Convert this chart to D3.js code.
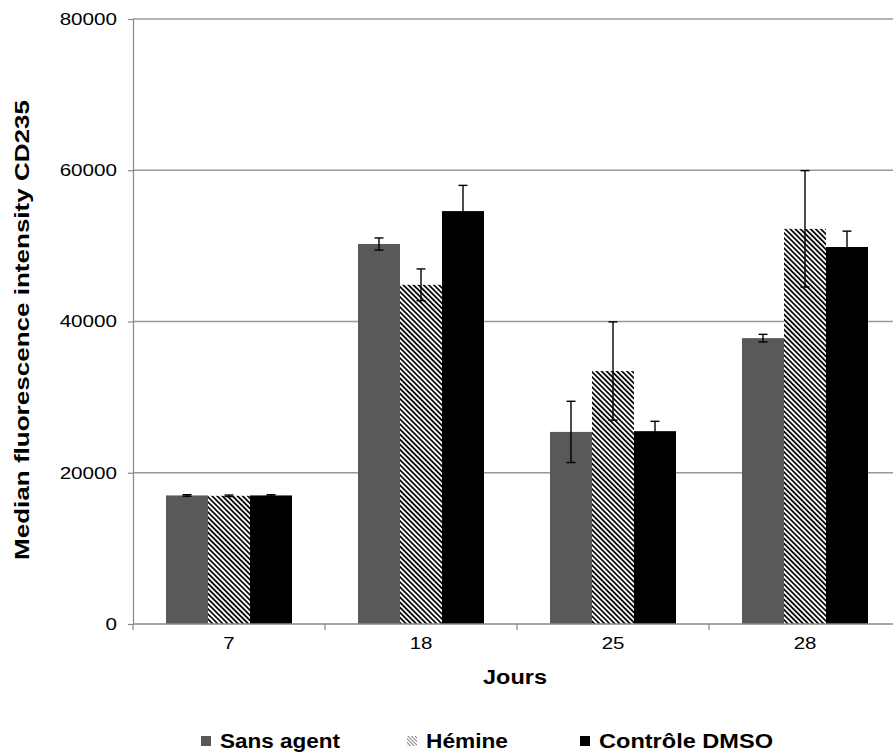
<!DOCTYPE html>
<html><head><meta charset="utf-8">
<script src="https://cdn.jsdelivr.net/npm/d3@7"></script>
<style>body{margin:0;background:#fff}svg{display:block}text{font-family:"Liberation Sans",Arial,sans-serif}</style>
</head><body><svg id="c" width="893" height="754"></svg>
<script>
const categories = ["7", "18", "25", "28"];
const seriesNames = ["Sans agent", "Hémine", "Contrôle DMSO"];
const sansAgent = [17000, 50250, 25400, 37800];
const hemine = [16950, 44850, 33450, 52250];
const controleDMSO = [17000, 54600, 25500, 49850];
const errSansAgent = [100, 800, 4050, 500];
const errHemine = [100, 2100, 6500, 7700];
const errControle = [100, 3400, 1300, 2100];
const yTicks = [0, 20000, 40000, 60000, 80000];

const svg = d3.select("#c");
const defs = svg.append("defs");
const pat = defs.append("pattern").attr("id","hatch").attr("patternUnits","userSpaceOnUse")
  .attr("width",3.6).attr("height",3.6).attr("patternTransform","rotate(-45)");
pat.append("rect").attr("width",3.6).attr("height",3.6).attr("fill","#fff");
pat.append("rect").attr("x",0).attr("y",0).attr("width",1.7).attr("height",3.6).attr("fill","#000");
const pat2 = defs.append("pattern").attr("id","hatchL").attr("patternUnits","userSpaceOnUse")
  .attr("width",2.5).attr("height",2.5).attr("patternTransform","rotate(-45)");
pat2.append("rect").attr("width",2.5).attr("height",2.5).attr("fill","#fff");
pat2.append("rect").attr("width",0.9).attr("height",2.5).attr("fill","#777");

const x0 = d3.scaleBand().domain(categories).range([133, 901]);
const x1 = d3.scaleBand().domain(seriesNames).range([33, 159]);
const y = d3.scaleLinear().domain([0, 80000]).range([624, 19]);
const fills = ["#595959", "url(#hatch)", "#000"];
const vals = [sansAgent, hemine, controleDMSO];
const errs = [errSansAgent, errHemine, errControle];

// gridlines
svg.append("g").selectAll("line").data(yTicks.filter(d=>d>0)).join("line")
  .attr("x1",133).attr("x2",893).attr("y1",d=>y(d)).attr("y2",d=>y(d))
  .attr("stroke","#999").attr("stroke-width",1.5);

// bars
seriesNames.forEach((s,si)=>{
  const g = svg.append("g");
  g.selectAll("rect").data(categories).join("rect")
    .attr("x",c=>x0(c)+x1(s)).attr("width",x1.bandwidth())
    .attr("y",(c,i)=>y(vals[si][i])).attr("height",(c,i)=>y(0)-y(vals[si][i]))
    .attr("fill",fills[si]);
});
// error bars
seriesNames.forEach((s,si)=>{
  const g = svg.append("g").attr("stroke","#000").attr("stroke-width",1.4);
  categories.forEach((c,i)=>{
    const cx = x0(c)+x1(s)+x1.bandwidth()/2;
    const v = vals[si][i], e = errs[si][i];
    g.append("line").attr("x1",cx).attr("x2",cx).attr("y1",y(v+e)).attr("y2",y(v-e));
    g.append("line").attr("x1",cx-4.5).attr("x2",cx+4.5).attr("y1",y(v+e)).attr("y2",y(v+e));
    g.append("line").attr("x1",cx-4.5).attr("x2",cx+4.5).attr("y1",y(v-e)).attr("y2",y(v-e));
  });
});

function stretch(sel, f){ sel.each(function(){ const w=this.getComputedTextLength(); d3.select(this).attr("textLength",w*f).attr("lengthAdjust","spacingAndGlyphs"); }); }

// y axis
const ya = svg.append("g").attr("transform","translate(133,0)")
  .call(d3.axisLeft(y).tickValues(yTicks).tickSize(5).tickPadding(11).tickFormat(d3.format("d")));
ya.select(".domain").attr("stroke","#888").attr("stroke-width",1.2);
ya.selectAll(".tick line").attr("stroke","#888").attr("stroke-width",1.2);
ya.selectAll("text").attr("font-size","16.5px").attr("fill","#000").attr("font-family","Liberation Sans, Arial");
stretch(ya.selectAll("text"),1.25);

// x axis
const xa = svg.append("g").attr("transform","translate(0,624)")
  .call(d3.axisBottom(x0).tickSize(0).tickPadding(13));
xa.select(".domain").remove();
svg.append("line").attr("x1",133).attr("x2",893).attr("y1",624).attr("y2",624).attr("stroke","#888").attr("stroke-width",1.5);
svg.append("g").selectAll("line").data(categories).join("line")
  .attr("x1",c=>x0(c)).attr("x2",c=>x0(c)).attr("y1",624).attr("y2",630).attr("stroke","#888").attr("stroke-width",1.2);
xa.selectAll("text").attr("font-size","16.5px").attr("fill","#000").attr("font-family","Liberation Sans, Arial");
stretch(xa.selectAll("text"),1.24);

// axis titles
const jt = svg.append("text").attr("x",515).attr("y",684).attr("text-anchor","middle")
  .attr("font-size","20px").attr("font-weight","bold").text("Jours");
jt.attr("textLength",64).attr("lengthAdjust","spacingAndGlyphs");
svg.append("text").attr("transform","translate(29,330) rotate(-90)").attr("text-anchor","middle")
  .attr("font-size","20px").attr("font-weight","bold")
  .attr("textLength",460).attr("lengthAdjust","spacingAndGlyphs")
  .text("Median fluorescence intensity CD235");

// legend
const legX = [201, 407, 580];
const legW = [120, 82, 174];
const legFill = ["#595959", "url(#hatchL)", "#000"];
seriesNames.forEach((s,i)=>{
  svg.append("rect").attr("x",legX[i]).attr("y",736).attr("width",10).attr("height",10).attr("fill",legFill[i]);
  svg.append("text").attr("x",legX[i]+19).attr("y",748).attr("font-size","20px").attr("font-weight","bold")
    .attr("textLength",legW[i]).attr("lengthAdjust","spacingAndGlyphs").text(s);
});
</script></body></html>
